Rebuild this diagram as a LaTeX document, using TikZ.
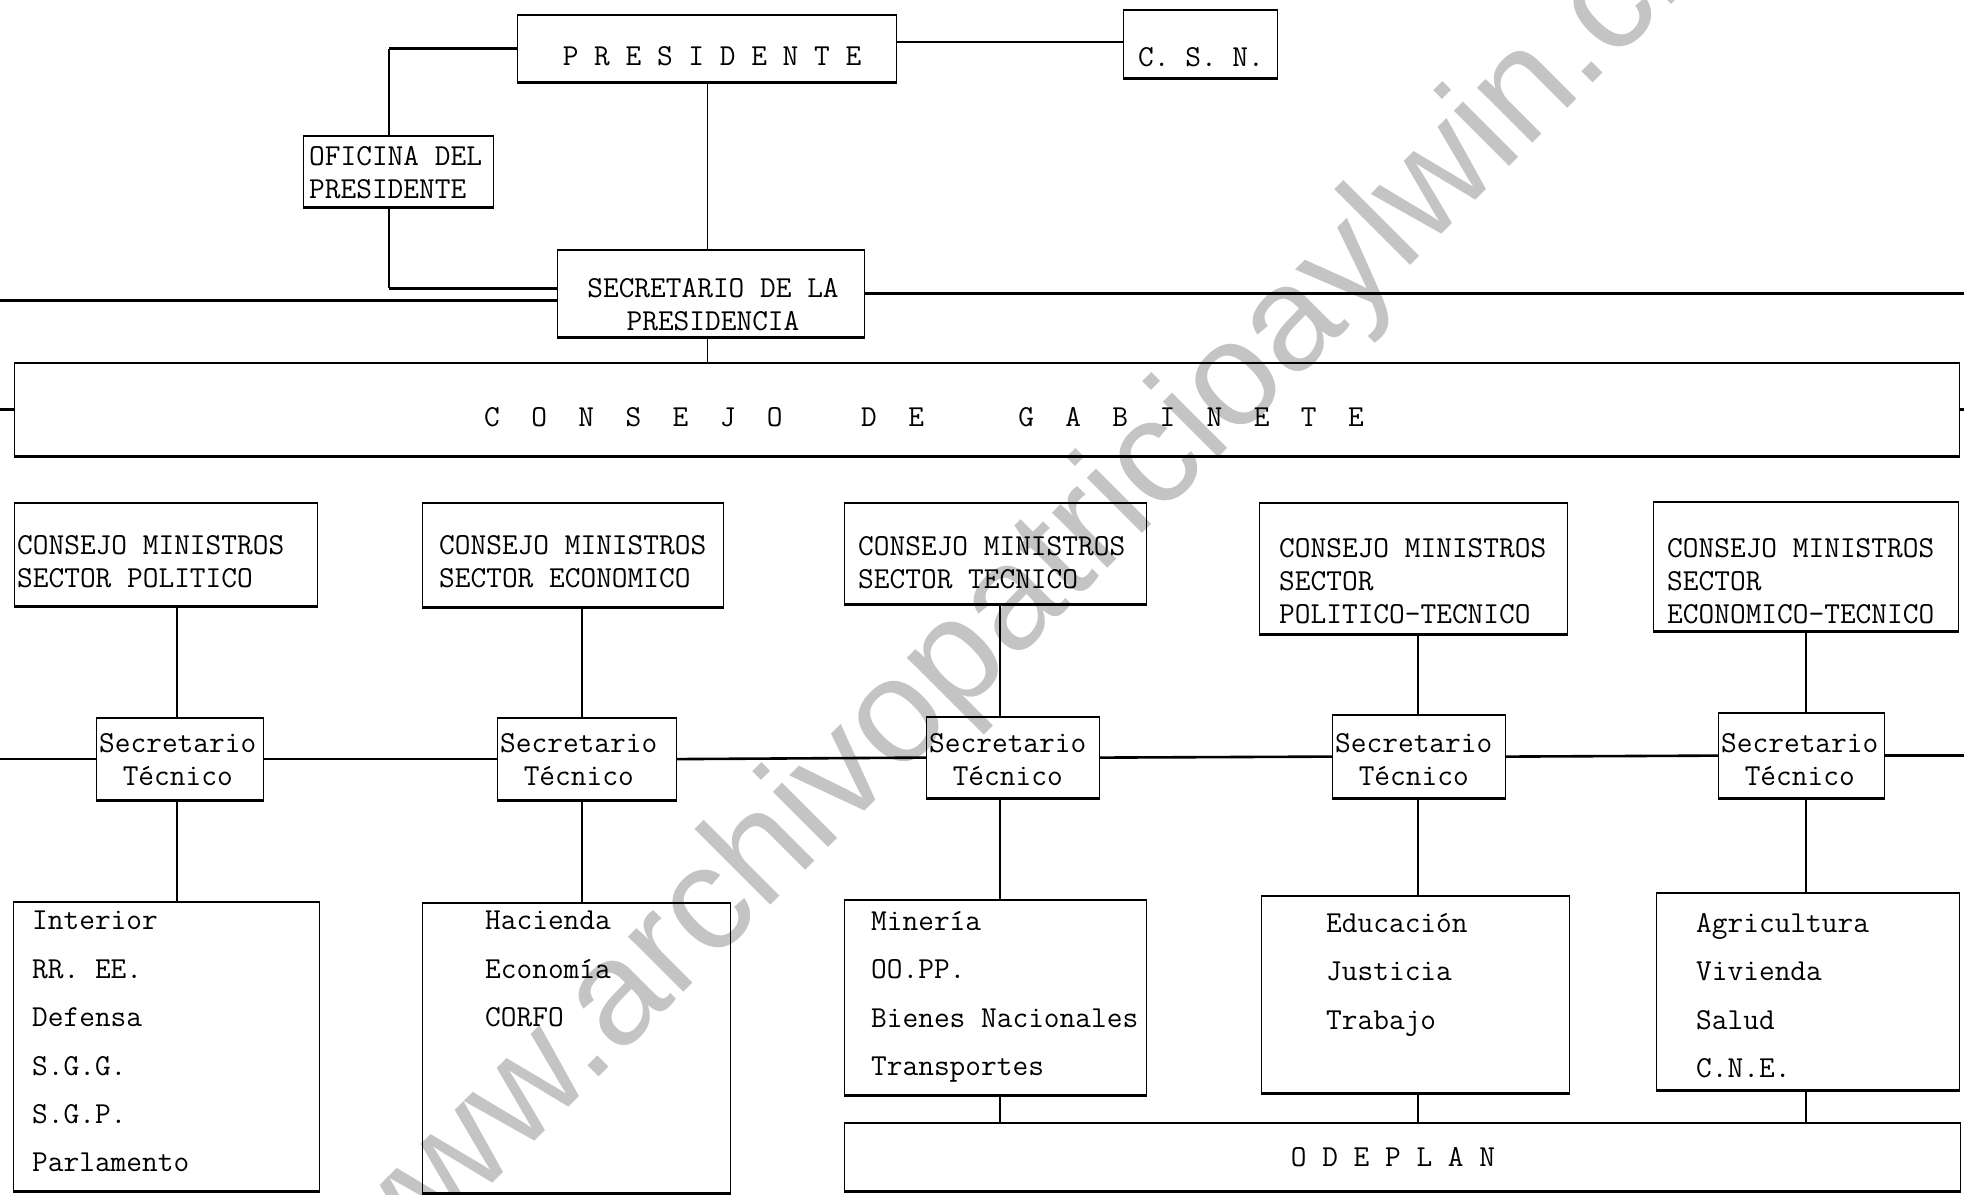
\documentclass[tikz,border=0pt]{standalone}
\usepackage{fontspec}
\usetikzlibrary{calc}
\newfontfamily\markfont{Liberation Sans}
\definecolor{mark}{RGB}{196,196,196}

\tikzset{
  frame/.style={draw,line width=1.2pt,inner sep=0pt,anchor=north west},
  hline/.style={line width=2.6pt},
  vline/.style={line width=1.2pt},
  txt/.style={inner sep=0pt,align=left,anchor=north west,
    font=\ttfamily\fontsize{30.5}{33}\selectfont},
  list/.style={txt,font=\ttfamily\fontsize{30.5}{48.4}\selectfont},
}

\begin{document}
\begin{tikzpicture}[x=1pt,y=-1pt]
\useasboundingbox (0,0) rectangle (1964,1194);
\clip (0,0) rectangle (1964,1194);

% archive stamp across the sheet
\node[rotate=45,anchor=base west,inner sep=0pt,text=mark,
  font=\markfont\fontsize{148}{150}\selectfont] (stamp) at (368,1308)
  {www.archivopatricioaylwin.cl};

\coordinate (lft) at (0,0);
\coordinate (rgt) at (1964,0);
\coordinate (oa) at (389,0);
\foreach \i/\x in {1/177,2/582,3/1000,4/1418,5/1806}
  \coordinate (x\i) at (\x,0);

% presidencia
\node[frame,minimum width=379pt,minimum height=66pt] (pres) at (517,15) {};
\node[frame,minimum width=154pt,minimum height=67pt] (csn) at (1123,10) {};
\node[frame,minimum width=190pt,minimum height=70pt] (ofi) at (303,136) {};
\node[frame,minimum width=307pt,minimum height=86pt] (sec) at (557,250) {};
\node[frame,minimum width=1945pt,minimum height=92pt] (gab) at (14,363) {};

\node[txt,anchor=center] (prest) at (712,56) {P R E S I D E N T E};
\node[txt,anchor=center] (csnt) at (1201,57) {C. S. N.};
\node[txt] (ofit) at (309,146) {OFICINA DEL\\PRESIDENTE};
\node[txt,anchor=north,align=center] (sect) at (713,278)
  {SECRETARIO DE LA\\PRESIDENCIA};
\node[txt,anchor=center] (gabt) at (924,417)
  {C~~O~~N~~S~~E~~J~~O~~~~~D~~E~~~~~~G~~A~~B~~I~~N~~E~~T~~E};

% consejos de ministros
\foreach \n/\x/\y/\w/\h in {1/14/503/303/102,2/422/503/301/103,
    3/844/503/302/100,4/1259/503/308/130,5/1653/502/305/128}
  \node[frame,minimum width=\w*1pt,minimum height=\h*1pt] (cm\n) at (\x,\y) {};
\node[txt] (cm1t) at (17,535) {CONSEJO MINISTROS\\SECTOR POLITICO};
\node[txt] (cm2t) at (439,535) {CONSEJO MINISTROS\\SECTOR ECONOMICO};
\node[txt] (cm3t) at (858,536) {CONSEJO MINISTROS\\SECTOR TECNICO};
\node[txt] (cm4t) at (1279,538) {CONSEJO MINISTROS\\SECTOR\\POLITICO-TECNICO};
\node[txt] (cm5t) at (1667,538) {CONSEJO MINISTROS\\SECTOR\\ECONOMICO-TECNICO};

% secretarios tecnicos
\foreach \n/\x/\y/\w/\h in {1/96/718/167/81,2/497/718/179/81,
    3/926/717/173/80,4/1332/715/173/82,5/1718/713/166/84}
  \node[frame,minimum width=\w*1pt,minimum height=\h*1pt] (st\n) at (\x,\y) {};
\foreach \n/\x in {1/99,2/500,3/929,4/1335,5/1721}
  \node[txt,align=center] (st\n t) at (\x,733) {Secretario\\Técnico};

% ministerios
\foreach \n/\x/\y/\w/\h in {1/13/902/306/288,2/422/903/308/289,
    3/844/900/302/194,4/1261/896/308/196,5/1656/893/303/196}
  \node[frame,minimum width=\w*1pt,minimum height=\h*1pt] (mi\n) at (\x,\y) {};
\node[list] (mi1t) at (32,911)
  {Interior\\RR. EE.\\Defensa\\S.G.G.\\S.G.P.\\Parlamento};
\node[list] (mi2t) at (485,911) {Hacienda\\Economía\\CORFO};
\node[list] (mi3t) at (871,911)
  {Minería\\OO.PP.\\Bienes Nacionales\\Transportes};
\node[list] (mi4t) at (1326,913) {Educación\\Justicia\\Trabajo};
\node[list] (mi5t) at (1696,913) {Agricultura\\Vivienda\\Salud\\C.N.E.};

\node[frame,minimum width=1116pt,minimum height=67pt] (odp) at (844,1123) {};
\node[txt,anchor=center] (odpt) at (1393,1157) {O D E P L A N};

% typed rules on top and bottom of every box
\foreach \b in {pres,csn,ofi,sec,gab,cm1,cm2,cm3,cm4,cm5,
    st1,st2,st3,st4,st5,mi1,mi2,mi3,mi4,mi5,odp}
  \draw[hline] (\b.north west) -- (\b.north east)
    (\b.south west) -- (\b.south east);

% connectors
\coordinate (s1) at ($(sec.north west)!.44!(sec.south west)$);
\coordinate (s2) at ($(sec.north west)!.58!(sec.south west)$);
\coordinate (p1) at ($(pres.north east)!.4!(pres.south east)$);
\draw[hline] (p1) -- (p1 -| csn.west);
\draw[hline] (pres.west) -- (pres.west -| oa);
\draw[vline] (pres.west -| oa) -- (ofi.north -| oa);
\draw[vline] (ofi.south -| oa) -- (s1 -| oa);
\draw[hline] (s1 -| oa) -- (s1);
\draw[hline] (s2) -- (s2 -| lft);
\draw[hline] (sec.east) -- (sec.east -| rgt);
\draw[vline] (pres.south) -- (pres.south |- sec.north);
\draw[vline] (pres.south |- sec.south) -- (pres.south |- gab.north);
\draw[hline] (gab.west) -- (gab.west -| lft);
\draw[hline] (gab.east) -- (gab.east -| rgt);

\draw[hline] (st1.west) -- (st1.west -| lft);
\foreach \a/\b in {1/2,2/3,3/4,4/5}
  \draw[hline] (st\a.east) -- (st\b.west);
\draw[hline] (st5.east) -- (st5.east -| rgt);

\foreach \i in {1,...,5}
  \draw[vline] (cm\i.south -| x\i) -- (st\i.north -| x\i)
    (st\i.south -| x\i) -- (mi\i.north -| x\i);
\draw[hline] (mi3.south -| x3) -- (odp.north -| x3);
\foreach \i in {4,5}
  \draw[vline] (mi\i.south -| x\i) -- (odp.north -| x\i);
\end{tikzpicture}
\end{document}
